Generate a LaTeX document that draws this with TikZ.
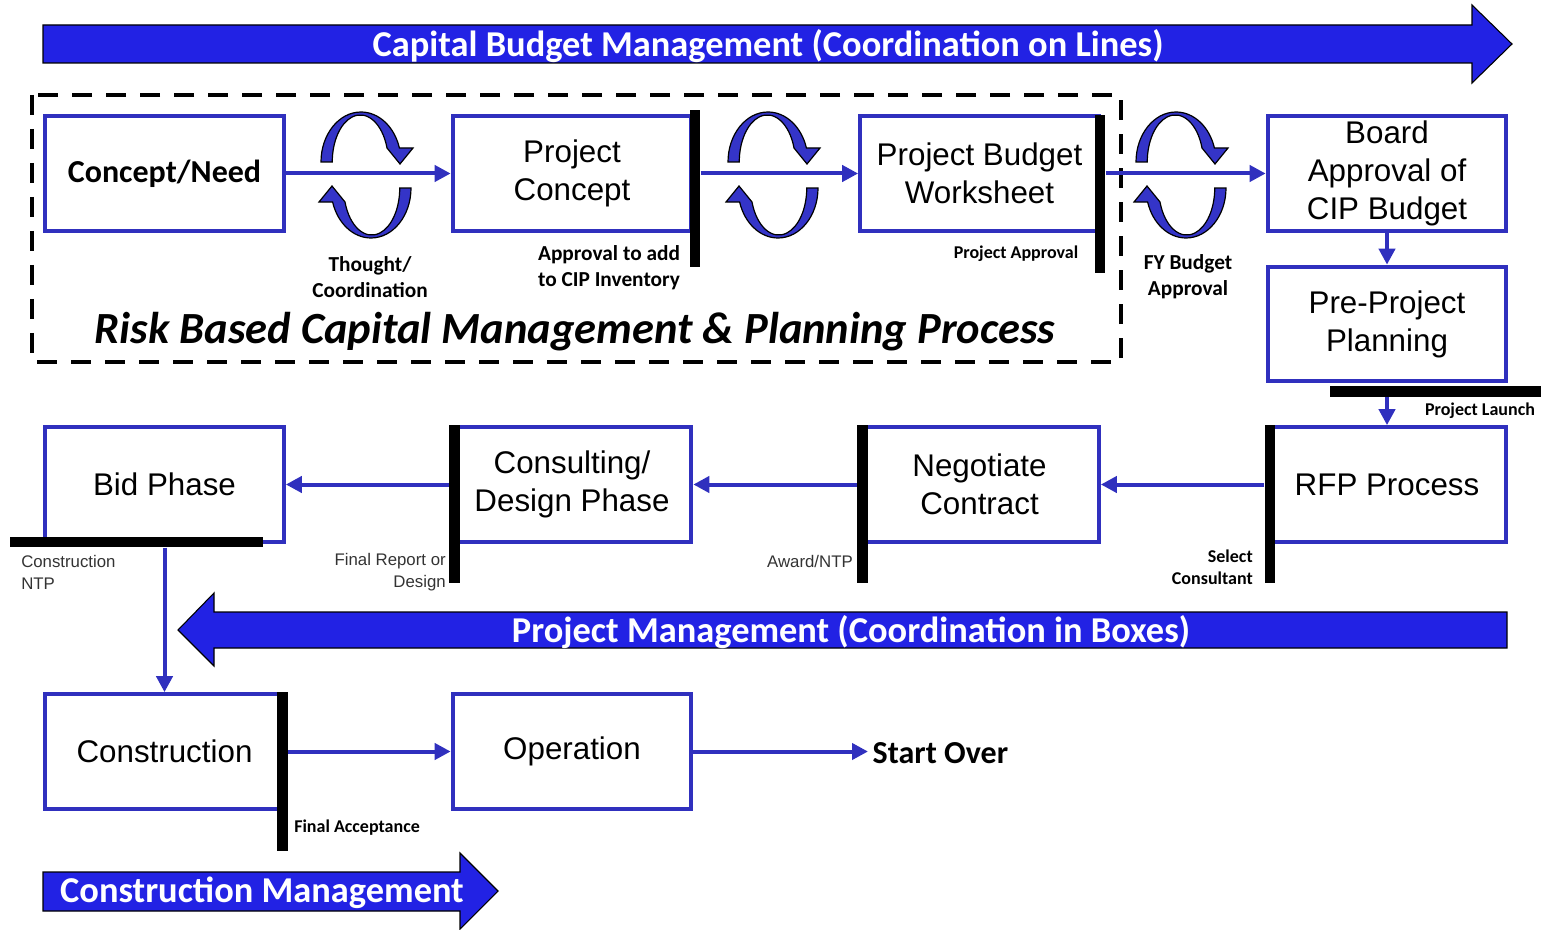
\documentclass[tikz,border=0pt]{standalone}
\usepackage{fontspec}
\setmainfont{Liberation Sans}
\newfontfamily\calfont{Carlito}
\usetikzlibrary{arrows.meta}

\definecolor{boxblue}{RGB}{48,48,190}
\definecolor{bandblue}{RGB}{34,34,228}
\definecolor{ringblue}{RGB}{52,52,200}

% one half of a turn-around symbol, centred on (0,0)
\newcommand{\turnarrow}{(-45,-13) arc[start angle=180,end angle=343.7,x radius=40,y radius=50] -- (47,-27) -- (34,-11) -- (21,-27) arc[start angle=342.7,end angle=180,x radius=28,y radius=47] -- cycle}
\newcommand{\ringpair}[2]{%
\begin{scope}[shift={(#1,#2)}]
\filldraw[ring] \turnarrow;
\filldraw[ring,rotate=180] \turnarrow;
\end{scope}}

\begin{document}
\begin{tikzpicture}[x=0.75pt,y=-0.75pt]
\tikzstyle{box}=[draw=boxblue, line width=3pt, minimum width=179pt, minimum height=86pt, inner sep=2pt, align=center, font=\fontsize{23.5}{28.5}\selectfont]
\tikzstyle{vbar}=[fill=black, inner sep=0pt, minimum width=8pt, minimum height=118pt]
\tikzstyle{hbar}=[fill=black, inner sep=0pt, minimum height=8pt]
\tikzstyle{link}=[draw=boxblue, line width=3pt, -{Triangle[length=12pt,width=12pt]}]
\tikzstyle{lbl}=[font=\calfont\bfseries\fontsize{16}{19.5}\selectfont, align=center, inner sep=0pt]
\tikzstyle{tiny}=[font=\calfont\bfseries\fontsize{13.5}{16.5}\selectfont, inner sep=0pt]
\tikzstyle{note}=[font=\fontsize{12.6}{16.5}\selectfont, text=black!80, inner sep=0pt]
\tikzstyle{band}=[fill=bandblue, draw=black, line width=0.8pt]
\tikzstyle{bandtext}=[text=white, font=\calfont\bfseries\fontsize{27.3}{30}\selectfont]
\tikzstyle{ring}=[fill=ringblue, draw=black, line width=0.9pt]
\useasboundingbox (0,0) rectangle (1544,930);

% coordination bands
\filldraw[band] (43,25) -- (1472,25) -- (1472,5) -- (1512,44) -- (1472,83) -- (1472,63) -- (43,63) -- cycle;
\node[bandtext] (cbm) at (768,46) {Capital Budget Management (Coordination on Lines)};
\filldraw[band] (1507,612) -- (214,612) -- (214,593) -- (178,630) -- (214,666) -- (214,648) -- (1507,648) -- cycle;
\node[bandtext] (pm) at (851,632) {Project Management (Coordination in Boxes)};
\filldraw[band] (43,872) -- (460,872) -- (460,853) -- (498,891) -- (460,929) -- (460,911) -- (43,911) -- cycle;
\node[bandtext] (cm) at (262,893) {Construction Management};

% risk based planning frame
\draw[line width=3pt, dash pattern=on 15pt off 10.5pt] (32,95) rectangle (1121,362);
\node[font=\calfont\bfseries\itshape\fontsize{33.4}{36}\selectfont] (risk) at (575,332) {Risk Based Capital Management \& Planning Process};

% boxes
\node[box, font=\calfont\bfseries\fontsize{24}{28}\selectfont] (cn) at (164.5,173.5) {Concept/Need};
\node[box] (pc) at (572,173.5) {Project\\Concept};
\node[box] (pbw) at (979.5,173.5) {Project Budget\\Worksheet};
\node[box] (bca) at (1387,173.5) {Board\\Approval of\\CIP Budget};
\node[box] (ppl) at (1387,324) {Pre-Project\\Planning};
\node[box] (rfp) at (1387,484.5) {RFP Process};
\node[box] (nc) at (979.5,484.5) {Negotiate\\Contract};
\node[box] (cd) at (572,484.5) {Consulting/\\Design Phase};
\node[box] (bid) at (164.5,484.5) {Bid Phase};
\node[box] (con) at (164.5,751.5) {Construction};
\node[box] (op) at (572,751.5) {Operation};
\node[font=\calfont\bfseries\fontsize{24}{28}\selectfont, anchor=west] (so) at (868,753) {Start Over};

% milestone bars
\node[vbar] (pcbar) at (695,188.5) {};
\node[vbar] (pbwbar) at (1100,194) {};
\node[hbar, minimum width=158pt] (pplbar) at (1435.5,391.5) {};
\node[vbar] (rfpbar) at (1270,504) {};
\node[vbar] (ncbar) at (862.5,504) {};
\node[vbar] (cdbar) at (454.5,504) {};
\node[hbar, minimum width=190pt] (bidbar) at (136.5,542) {};
\node[vbar, minimum height=119pt] (conbar) at (282.5,771.5) {};

% connectors
\draw[link] (cn.east) -- (pc.west);
\draw[link] (pcbar.east |- pc.east) -- (pbw.west);
\draw[link] (pbwbar.east |- pbw.east) -- (bca.west);
\draw[link] (bca.south) -- (ppl.north);
\draw[link] (pplbar.south -| rfp) -- (rfp.north);
\draw[link] (rfpbar.west |- rfp.west) -- (nc.east);
\draw[link] (ncbar.west |- nc.west) -- (cd.east);
\draw[link] (cdbar.west |- cd.west) -- (bid.east);
\draw[link] (bidbar.south -| bid) -- (con.north);
\draw[link] (conbar.east |- con.east) -- (op.west);
\draw[link] (op.east) -- (op.east -| so.west);

% turn-around symbols
\ringpair{366}{175}
\ringpair{773}{175}
\ringpair{1181}{175}

% labels
\node[lbl] (thought) at (370,277) {Thought/\\Coordination};
\node[lbl] (cipinv) at (609,268) {Approval to add\\to CIP Inventory};
\node[tiny] (pappr) at (1016,254) {Project Approval};
\node[lbl] (fybud) at (1188,277) {FY Budget\\Approval};
\node[tiny] (launch) at (1480,411) {Project Launch};
\node[tiny, anchor=east, align=right] (selcon) at (1253,567) {Select\\Consultant};
\node[note, anchor=east] (award) at (853,561) {Award/NTP};
\node[note, anchor=east, align=right] (finrep) at (446,572) {Final Report or\\Design};
\node[note, anchor=west, align=left] (cntp) at (21,572) {Construction\\NTP};
\node[tiny, anchor=west] (finacc) at (294,828) {Final Acceptance};
\end{tikzpicture}
\end{document}
